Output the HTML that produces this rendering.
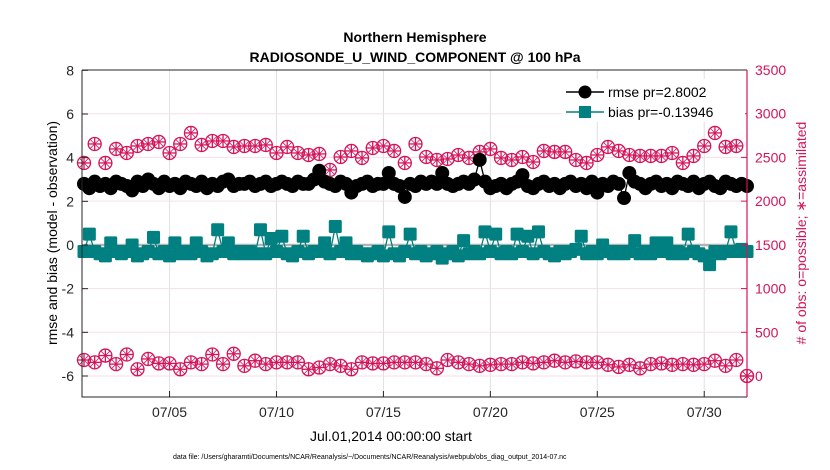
<!DOCTYPE html>
<html><head><meta charset="utf-8"><style>
body{margin:0;background:#fff;}
svg{display:block;font-family:"Liberation Sans",Arial,sans-serif;}
</style></head><body>
<svg id="chart" width="830" height="470" viewBox="0 0 830 470">
<g id="grid"></g>
<g id="plot"></g>
<g id="axes"></g>
<text x="415" y="42" text-anchor="middle" font-size="14" font-weight="bold">Northern Hemisphere</text>
<text x="415" y="62" text-anchor="middle" font-size="14" font-weight="bold">RADIOSONDE_U_WIND_COMPONENT @ 100 hPa</text>
<text x="310" y="441" font-size="14">Jul.01,2014 00:00:00 start</text>
<text x="173" y="459" font-size="7">data file: /Users/gharamti/Documents/NCAR/Reanalysis/~/Documents/NCAR/Reanalysis/webpub/obs_diag_output_2014-07.nc</text>
<text transform="translate(57,233) rotate(-90)" text-anchor="middle" font-size="14">rmse and bias (model - observation)</text>
<text transform="translate(806,233) rotate(-90)" text-anchor="middle" font-size="14" fill="#d4145a"># of obs: o=possible; ∗=assimilated</text>
<g>
<rect x="562" y="79" width="183" height="43" fill="#fff"/>
<g>
<line x1="566" y1="92" x2="604" y2="92" stroke="#000" stroke-width="1.5"/>
<circle cx="585" cy="92" r="6.5" fill="#000"/>
<text x="608" y="97" font-size="14">rmse pr=2.8002</text></g>
<g>
<line x1="566" y1="112" x2="604" y2="112" stroke="#008080" stroke-width="1.5"/>
<rect x="579" y="106" width="12" height="12" fill="#008080"/>
<text x="608" y="117" font-size="14">bias pr=-0.13946</text></g>
</g>
</svg>
<script>
const leftTicks=[8,6,4,2,0,-2,-4,-6];
const rightTicks=[3500,3000,2500,2000,1500,1000,500,0];
const xTickDays=[4,9,14,19,24,29];
const xTickLabels=["07/05","07/10","07/15","07/20","07/25","07/30"];
const rmse=[2.8,2.6,2.9,2.7,2.8,2.6,2.9,2.8,2.7,2.5,
2.9,2.7,3.0,2.8,2.6,2.9,2.7,2.8,2.6,2.9,
2.8,2.7,2.9,2.6,2.8,2.7,2.9,3.0,2.7,2.8,
2.8,2.9,2.7,2.8,2.9,2.7,2.8,2.9,2.8,2.7,
2.9,2.8,2.8,3.0,3.4,2.9,2.8,2.7,2.9,2.8,
2.4,2.7,2.8,2.9,2.7,2.8,2.8,3.3,2.8,2.7,
2.2,2.8,2.7,2.9,2.8,2.9,2.8,3.3,2.8,2.7,
2.8,2.9,2.8,3.0,3.9,2.9,2.6,2.7,2.8,2.6,
2.8,2.9,3.2,2.7,2.6,2.8,2.9,2.7,2.8,2.6,
2.8,2.9,2.7,2.8,2.6,2.9,2.4,2.8,2.7,2.9,
2.8,2.15,3.3,2.9,2.8,2.6,2.8,2.9,2.7,2.8,
2.6,2.9,2.8,2.7,2.9,2.6,2.8,2.9,2.7,2.6,
2.9,2.8,2.7,2.8,2.7];
const bias=[-0.3,0.5,-0.3,-0.4,-0.5,0.1,-0.3,-0.4,-0.3,0.0,
-0.5,-0.4,-0.3,0.35,-0.4,-0.3,-0.5,0.1,-0.4,-0.3,
-0.4,0.1,-0.3,-0.5,-0.4,0.7,-0.3,0.1,-0.4,-0.3,
-0.4,-0.3,-0.4,0.7,-0.4,0.3,-0.3,0.4,-0.4,-0.5,
-0.3,0.4,-0.4,-0.3,-0.3,0.1,-0.4,0.85,-0.3,0.1,
-0.4,-0.3,-0.4,-0.5,-0.4,-0.3,-0.5,0.6,-0.4,-0.5,
-0.3,0.5,-0.4,-0.3,-0.5,-0.4,-0.3,-0.6,-0.4,-0.3,
-0.5,0.2,-0.4,-0.3,-0.4,0.6,-0.3,0.5,-0.4,-0.3,
-0.4,0.5,-0.3,0.4,-0.4,0.6,-0.3,-0.4,-0.5,-0.3,
-0.4,-0.3,-0.2,0.4,-0.4,-0.3,-0.4,0.0,-0.3,-0.4,
-0.3,-0.4,-0.3,0.2,-0.4,-0.3,-0.4,0.1,-0.3,0.1,
-0.4,-0.3,-0.4,0.5,-0.3,-0.4,-0.5,-0.9,-0.3,-0.4,
-0.3,0.6,-0.3,-0.2,-0.3];
const possible=[2437,2654,2437,2597,2551,2631,2654,2677,2551,2654,2780,2643,2688,2688,2620,2631,2631,2643,2551,2620,2551,2528,2540,2357,2505,2574,2494,2608,2631,2574,2437,2654,
2505,2471,2482,2528,2494,2563,2597,2494,2471,2505,2448,2574,2563,2563,2471,2437,2528,2620,2574,2528,2517,2517,2517,2551,2437,2517,2631,2780,2620,2631,0];
const assimilated=[183,156,234,136,246,77,195,144,144,77,156,136,246,136,254,116,175,136,156,156,156,77,97,136,116,77,156,144,144,156,
156,156,136,88,183,156,136,116,128,136,136,156,144,156,175,156,167,156,156,128,104,128,88,136,144,128,136,128,136,175,116,183,0];

const NS="http://www.w3.org/2000/svg";
const X0=84,X1=747,Y0=70,Y1=397;
const xs=d=>X0+(d/31)*(X1-X0);
const yl=v=>245-v*(376-245)/6;
const yr=v=>376-v*(376-70)/3500;
function mk(tag,attrs,parent){const e=document.createElementNS(NS,tag);for(const k in attrs)e.setAttribute(k,attrs[k]);parent.appendChild(e);return e;}
const grid=document.getElementById('grid'),plot=document.getElementById('plot'),axes=document.getElementById('axes');

xTickDays.forEach((d,i)=>{
  const l=mk('line',{x1:xs(d),x2:xs(d),y1:Y0,y2:Y1,stroke:'#e0e0e0','stroke-width':1},grid);
  
  
  const t=mk('line',{x1:xs(d),x2:xs(d),y1:Y1,y2:Y1-6,stroke:'#262626'},axes);
  
  
  const tx=mk('text',{x:xs(d),y:Y1+20,'text-anchor':'middle','font-size':14,fill:'#262626'},axes);
  tx.textContent=xTickLabels[i];
  
  
});
rightTicks.forEach(v=>{
  const l=mk('line',{x1:X0-2,x2:X1,y1:yr(v),y2:yr(v),stroke:'#f6dfe7','stroke-width':1},grid);
  
  
  const t=mk('line',{x1:X1,x2:X1-6,y1:yr(v),y2:yr(v),stroke:'#d4145a'},axes);
  
  
  const tx=mk('text',{x:X1+8,y:yr(v)+5,'font-size':14,fill:'#d4145a'},axes);
  tx.textContent=v;
  
  
});
leftTicks.forEach(v=>{
  const t=mk('line',{x1:X0-2,x2:X0+4,y1:yl(v),y2:yl(v),stroke:'#262626'},axes);
  
  
  const tx=mk('text',{x:X0-10,y:yl(v)+5,'text-anchor':'end','font-size':14,fill:'#262626'},axes);
  tx.textContent=v;
  
  
});
const zl=mk('line',{x1:X0,x2:X1,y1:yl(0),y2:yl(0),stroke:'#b3b3b3','stroke-width':2.5},plot);



function obs(arr,name){
  arr.forEach((v,i)=>{
    const cx=xs(i*0.5),cy=yr(v);
    const g=mk('g',{},plot);
    
    
    mk('circle',{cx:cx,cy:cy,r:6.5,fill:'none',stroke:'#d4145a','stroke-width':1.3},g);
    for(let a=0;a<4;a++){const an=a*Math.PI/4,dx=Math.cos(an)*6.5,dy=Math.sin(an)*6.5;
      mk('line',{x1:cx-dx,y1:cy-dy,x2:cx+dx,y2:cy+dy,stroke:'#d4145a','stroke-width':a%2?0.8:1.3},g);}
  });
}
obs(possible,'possible-obs-point');
obs(assimilated,'assimilated-obs-point');

const bp=mk('polyline',{points:bias.map((v,i)=>xs(i*0.25)+','+yl(v)).join(' '),fill:'none',stroke:'#008080','stroke-width':1.3},plot);


bias.forEach((v,i)=>{
  const r=mk('rect',{x:xs(i*0.25)-6.5,y:yl(v)-6.5,width:13,height:13,rx:1.5,fill:'#008080'},plot);
  
  
});
const rp=mk('polyline',{points:rmse.map((v,i)=>xs(i*0.25)+','+yl(v)).join(' '),fill:'none',stroke:'#000','stroke-width':1.3},plot);


rmse.forEach((v,i)=>{
  const c=mk('circle',{cx:xs(i*0.25),cy:yl(v),r:7,fill:'#000'},plot);
  
  
});

const b1=mk('path',{d:`M${X0-2},${Y0} V${Y1} H${X1}`,fill:'none',stroke:'#262626','stroke-width':1},axes);


const b2=mk('line',{x1:X0-2,x2:X1,y1:Y0,y2:Y0,stroke:'#262626','stroke-width':1},axes);


const b3=mk('line',{x1:X1,x2:X1,y1:Y0,y2:Y1,stroke:'#d4145a','stroke-width':1.2},axes);


</script>
</body></html>
